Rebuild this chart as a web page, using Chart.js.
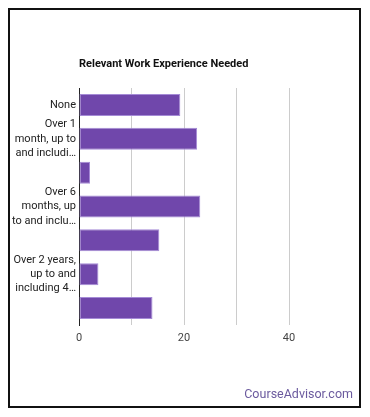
<!DOCTYPE html>
<html>
<head>
<meta charset="utf-8">
<script src="https://cdn.jsdelivr.net/npm/chart.js@4"></script>
<style>
  html, body { margin: 0; padding: 0; background: #fff; }
  body { width: 370px; height: 417px; position: relative; overflow: hidden; font-family: Roboto, sans-serif; }
  #frame { position: absolute; left: 8px; top: 8px; width: 349px; height: 396px; border: 2px solid #111; box-sizing: content-box; }
  #titre { position: absolute; left: 79px; top: 57px; font: bold 11px Roboto, sans-serif; color: #111; }
  #marque { position: absolute; right: 17px; top: 386px; font: 12.5px Roboto, sans-serif; color: #6b5a9e; }
  #wrap { position: absolute; left: 0; top: 0; width: 370px; height: 417px; }
</style>
</head>
<body>
<div id="frame"></div>
<div id="wrap"><canvas id="myChart"></canvas></div>
<div id="titre">Relevant Work Experience Needed</div>
<div id="marque">CourseAdvisor.com</div>
<script>
const categories = [
    'None',
    'Over 1 month, up to and including 3 months',
    'Over 3 months, up to and including 6 months',
    'Over 6 months, up to and including 1 year',
    'Over 1 year, up to and including 2 years',
    'Over 2 years, up to and including 4 years',
    'Over 4 years'
];
const tickLabels = [
    ['None'],
    ['Over 1', 'month, up to', 'and includi…'],
    '',
    ['Over 6', 'months, up', 'to and inclu…'],
    '',
    ['Over 2 years,', 'up to and', 'including 4…'],
    ''
];
const valeurs = [19.3, 22.5, 2.1, 23.1, 15.3, 3.7, 14.0];
const xTicks = [0, 20, 40];

const ctx = document.getElementById('myChart').getContext('2d');
new Chart(ctx, {
    type: 'bar',
    data: {
        labels: categories,
        datasets: [{
            data: valeurs,
            backgroundColor: '#7047ab',
            borderColor: '#a58bd6',
            borderWidth: 1,
            borderSkipped: false,
            barPercentage: 0.65,
            categoryPercentage: 1
        }]
    },
    options: {
        indexAxis: 'y',
        responsive: true,
        maintainAspectRatio: false,
        animation: false,
        layout: { padding: { left: 10, right: 81, top: 88, bottom: 0 } },
        plugins: {
            legend: { display: false },
            tooltip: { enabled: false }
        },
        scales: {
            x: {
                min: 0,
                max: 40,
                ticks: {
                    stepSize: 10,
                    padding: 7,
                    color: '#444',
                    font: { family: 'Roboto', size: 11 },
                    callback: (v) => xTicks.includes(v) ? v : ''
                },
                grid: { color: '#cccccc', drawTicks: false },
                border: { display: false },
                afterFit: (s) => { s.height = 92; }
            },
            y: {
                ticks: {
                    autoSkip: false,
                    padding: 3,
                    color: '#222',
                    font: { family: 'Roboto', size: 11, lineHeight: 1.3 },
                    callback: (v, i) => tickLabels[i]
                },
                grid: { display: false, drawTicks: false },
                border: { display: true, color: '#222', width: 1 },
                afterFit: (s) => { s.width = 69; }
            }
        }
    }
});
</script>
</body>
</html>
